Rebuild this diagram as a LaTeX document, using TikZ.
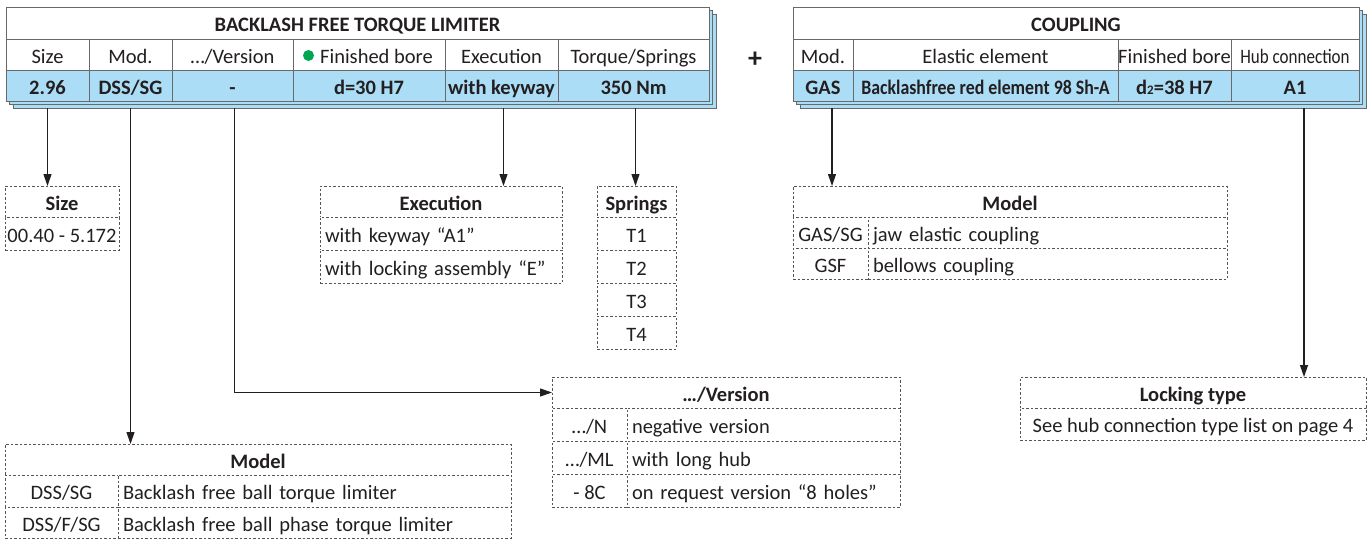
\documentclass[tikz,border=0pt]{standalone}
\usepackage{fontspec}
\usepackage{graphicx}
\setmainfont{Carlito}
\usetikzlibrary{arrows.meta,calc}
\definecolor{cellblue}{RGB}{172,221,246}
\definecolor{bordergray}{RGB}{105,105,105}
\definecolor{txt}{RGB}{35,31,32}
\definecolor{dotgreen}{RGB}{0,166,81}
\definecolor{dashgray}{RGB}{85,85,85}
\tikzset{
  base/.style={inner sep=0pt, outer sep=0pt, text=txt, text height=20pt, text depth=2.5pt,
    font=\fontsize{20.5}{24}\selectfont},
  tcell/.style={base, draw=bordergray, line width=0.9pt, fill=white},
  vcell/.style={tcell, fill=cellblue, font=\fontsize{20.5}{24}\selectfont\bfseries},
  ttl/.style={tcell, font=\fontsize{20.5}{24}\selectfont\bfseries},
  dcell/.style={base, draw=dashgray, line width=0.8pt, dash pattern=on 2.5pt off 2pt, fill=white},
  dhead/.style={dcell, font=\fontsize{20.5}{24}\selectfont\bfseries},
  shadowbox/.style={draw=bordergray, fill=cellblue, line width=0.9pt},
  conn/.style={draw=txt, line width=1.1pt, -{Triangle[length=12pt,width=8pt]}},
  plus/.style={inner sep=0pt, text=txt, font=\fontsize{28}{30}\selectfont\bfseries},
}
\newcommand{\mkcell}[7]{\node[#1, minimum width={#5-#3}, minimum height={#6-#4}]
  (#2) at ({(#3+#5)/2},{(#4+#6)/2}) {#7};}
\newcommand{\mkcellL}[7]{\node[#1, minimum width={#5-#3}, minimum height={#6-#4},
  text width={#5-#3-10}, inner xsep=5pt, align=left]
  (#2) at ({(#3+#5)/2},{(#4+#6)/2}) {#7};}
\begin{document}
\begin{tikzpicture}[x=1pt,y=-1pt]
\useasboundingbox (0,0) rectangle (1370,543);
% ---------- left table ----------
\draw[shadowbox] (13,14) rectangle (716,108);
\draw[shadowbox] (9.5,10.5) rectangle (712.5,104.5);
\mkcell{ttl}{t1}{6}{7}{709}{39}{BACKLASH FREE TORQUE LIMITER}
\mkcell{tcell}{h1}{6}{39}{89}{70}{Size}
\mkcell{tcell}{h2}{89}{39}{172}{70}{Mod.}
\mkcell{tcell}{h3}{172}{39}{293}{70}{…/Version}
\mkcell{tcell}{h4}{293}{39}{445}{70}{\hspace*{15pt}Finished bore}
\mkcell{tcell}{h5}{445}{39}{558}{70}{Execution}
\mkcell{tcell}{h6}{558}{39}{709}{70}{Torque/Springs}
\mkcell{vcell}{v1}{6}{70}{89}{101}{2.96}
\mkcell{vcell}{v2}{89}{70}{172}{101}{DSS/SG}
\mkcell{vcell}{v3}{172}{70}{293}{101}{-}
\mkcell{vcell}{v4}{293}{70}{445}{101}{d=30 H7}
\mkcell{vcell}{v5}{445}{70}{558}{101}{with keyway}
\mkcell{vcell}{v6}{558}{70}{709}{101}{350 Nm}
\fill[dotgreen] (308.5,55.5) circle (5.5);
% plus
\node[plus] (pl) at (755,60) {+};
% ---------- right table ----------
\draw[shadowbox] (800,14) rectangle (1366,108);
\draw[shadowbox] (796.5,10.5) rectangle (1362.5,104.5);
\mkcell{ttl}{t2}{793}{7}{1359}{39}{COUPLING}
\mkcell{tcell}{g1}{793}{39}{853}{70}{Mod.}
\mkcell{tcell}{g2}{853}{39}{1118}{70}{Elastic element}
\mkcell{tcell}{g3}{1118}{39}{1231}{70}{Finished bore}
\mkcell{tcell}{g4}{1231}{39}{1359}{70}{\scalebox{0.83}[1]{Hub connection}}
\mkcell{vcell}{w1}{793}{70}{853}{101}{GAS}
\mkcell{vcell}{w2}{853}{70}{1118}{101}{\scalebox{0.87}[1]{Backlashfree red element 98 Sh-A}}
\mkcell{vcell}{w3}{1118}{70}{1231}{101}{d{\fontsize{13}{13}\selectfont 2}=38 H7}
\mkcell{vcell}{w4}{1231}{70}{1359}{101}{A1}
% ---------- Size box ----------
\mkcell{dhead}{sz-h}{5}{186}{119}{217}{Size}
\mkcell{dcell}{sz-1}{5}{217}{119}{250}{00.40 - 5.172}
% ---------- Execution box ----------
\mkcell{dhead}{ex-h}{320}{186}{562}{217}{Execution}
\mkcellL{dcell}{ex-1}{320}{217}{562}{250}{with keyway “A1”}
\mkcellL{dcell}{ex-2}{320}{250}{562}{283}{with locking assembly “E”}
% ---------- Springs box ----------
\mkcell{dhead}{sp-h}{597}{186}{676}{217}{Springs}
\mkcell{dcell}{sp-1}{597}{217}{676}{250}{T1}
\mkcell{dcell}{sp-2}{597}{250}{676}{283}{T2}
\mkcell{dcell}{sp-3}{597}{283}{676}{316}{T3}
\mkcell{dcell}{sp-4}{597}{316}{676}{349}{T4}
% ---------- Coupling model box ----------
\mkcell{dhead}{cm-h}{793}{186}{1227}{217}{Model}
\mkcell{dcell}{cm-1a}{793}{217}{868}{248}{GAS/SG}
\mkcellL{dcell}{cm-1b}{868}{217}{1227}{248}{jaw elastic coupling}
\mkcell{dcell}{cm-2a}{793}{248}{868}{279}{GSF}
\mkcellL{dcell}{cm-2b}{868}{248}{1227}{279}{bellows coupling}
% ---------- Version box ----------
\mkcell{dhead}{ver-h}{552}{377}{900}{408}{…/Version}
\mkcell{dcell}{ver-1a}{552}{408}{627}{441}{…/N}
\mkcellL{dcell}{ver-1b}{627}{408}{900}{441}{negative version}
\mkcell{dcell}{ver-2a}{552}{441}{627}{474}{…/ML}
\mkcellL{dcell}{ver-2b}{627}{441}{900}{474}{with long hub}
\mkcell{dcell}{ver-3a}{552}{474}{627}{507}{- 8C}
\mkcellL{dcell}{ver-3b}{627}{474}{900}{507}{on request version “8 holes”}
% ---------- Locking box ----------
\mkcell{dhead}{lk-h}{1020}{377}{1366}{408}{Locking type}
\mkcell{dcell}{lk-1}{1020}{408}{1366}{440}{See hub connection type list on page 4}
% ---------- Model box ----------
\mkcell{dhead}{md-h}{5}{444}{511}{475}{Model}
\mkcell{dcell}{md-1a}{5}{475}{118}{507}{DSS/SG}
\mkcellL{dcell}{md-1b}{118}{475}{511}{507}{Backlash free ball torque limiter}
\mkcell{dcell}{md-2a}{5}{507}{118}{538}{DSS/F/SG}
\mkcellL{dcell}{md-2b}{118}{507}{511}{538}{Backlash free ball phase torque limiter}
% ---------- connectors ----------
\draw[conn] ([yshift=-7pt]v1.south) -- (v1.south |- sz-h.north);
\draw[conn] ([yshift=-7pt]v2.south) -- (v2.south |- md-h.north);
\draw[conn] ([xshift=2pt,yshift=-7pt]v3.south) |- (ver-h.west);
\draw[conn] ([xshift=2pt,yshift=-7pt]v5.south) -- ([xshift=2pt]v5.south |- ex-h.north);
\draw[conn] ([xshift=2pt,yshift=-7pt]v6.south) -- ([xshift=2pt]v6.south |- sp-h.north);
\draw[conn] ([xshift=9pt,yshift=-7pt]w1.south) -- ([xshift=9pt]w1.south |- cm-h.north);
\draw[conn] ([xshift=9pt,yshift=-7pt]w4.south) -- ([xshift=9pt]w4.south |- lk-h.north);
\end{tikzpicture}
\end{document}
